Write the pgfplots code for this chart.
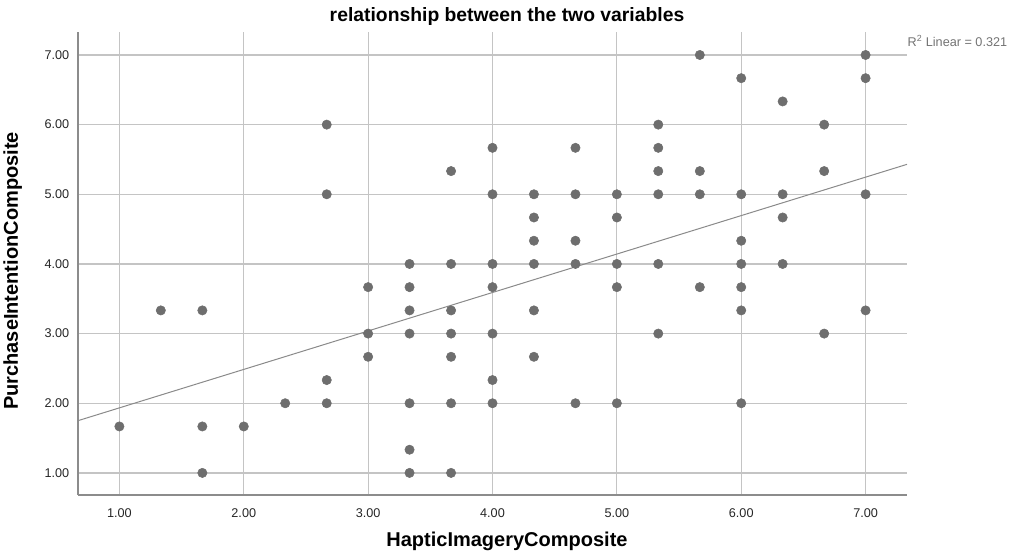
\documentclass[border=0pt]{standalone}
\usepackage{pgfplots}
\pgfplotsset{compat=1.18}
\usepackage{fontspec}
\setmainfont{Liberation Sans}
\definecolor{dotc}{HTML}{6E6E6E}
\definecolor{gridc}{HTML}{C4C4C4}
\definecolor{axc}{HTML}{8C8C8C}
\definecolor{fitc}{HTML}{8A8A8A}
\begin{document}
\begin{tikzpicture}
\useasboundingbox (-58.5pt,-45pt) rectangle (699.75pt,371.25pt);
\begin{axis}[
  at={(0,0)}, anchor=south west,
  scale only axis,
  width=621.75pt, height=347.25pt,
  xmin=0.667, xmax=7.333,
  ymin=0.683, ymax=7.33,
  axis x line=bottom, axis y line=left,
  axis line style={axc, line width=0.8pt, -},
  xtick={1,2,3,4,5,6,7},
  ytick={1,2,3,4,5,6,7},
  xticklabels={1.00,2.00,3.00,4.00,5.00,6.00,7.00},
  yticklabels={1.00,2.00,3.00,4.00,5.00,6.00,7.00},
  major tick length=0pt,
  grid=major,
  major grid style={gridc, line width=0.9pt},
  tick label style={font=\fontsize{9.5}{11}\selectfont, text=black!85},
  xticklabel style={yshift=-7pt},
  yticklabel style={xshift=-3pt},
  clip=false,
]
\addplot[fitc, line width=0.75pt] coordinates {(0.667,1.75) (7.333,5.43)};
\addplot[only marks, mark=*, mark size=3.5pt, mark options={draw=dotc, fill=dotc}] coordinates {
(1.000,1.667)
(1.333,3.333)
(1.667,3.333) (1.667,1.667) (1.667,1.000)
(2.000,1.667)
(2.333,2.000)
(2.667,6.000) (2.667,5.000) (2.667,2.333) (2.667,2.000)
(3.000,3.667) (3.000,3.000) (3.000,2.667)
(3.333,4.000) (3.333,3.667) (3.333,3.333) (3.333,3.000) (3.333,2.000) (3.333,1.333) (3.333,1.000)
(3.667,5.333) (3.667,4.000) (3.667,3.333) (3.667,3.000) (3.667,2.667) (3.667,2.000) (3.667,1.000)
(4.000,5.667) (4.000,5.000) (4.000,4.000) (4.000,3.667) (4.000,3.000) (4.000,2.333) (4.000,2.000)
(4.333,5.000) (4.333,4.667) (4.333,4.333) (4.333,4.000) (4.333,3.333) (4.333,2.667)
(4.667,5.667) (4.667,5.000) (4.667,4.333) (4.667,4.000) (4.667,2.000)
(5.000,5.000) (5.000,4.667) (5.000,4.000) (5.000,3.667) (5.000,2.000)
(5.333,6.000) (5.333,5.667) (5.333,5.333) (5.333,5.000) (5.333,4.000) (5.333,3.000)
(5.667,7.000) (5.667,5.333) (5.667,5.000) (5.667,3.667)
(6.000,6.667) (6.000,5.000) (6.000,4.333) (6.000,4.000) (6.000,3.667) (6.000,3.333) (6.000,2.000)
(6.333,6.333) (6.333,5.000) (6.333,4.667) (6.333,4.000)
(6.667,6.000) (6.667,5.333) (6.667,3.000)
(7.000,7.000) (7.000,6.667) (7.000,5.000) (7.000,3.333)
};
\end{axis}
\node[anchor=base, font=\bfseries\fontsize{14.5}{16}\selectfont] at (321.75pt,355pt) {relationship between the two variables};
\node[anchor=base, font=\bfseries\fontsize{15}{17}\selectfont] at (321.75pt,-38.5pt) {HapticImageryComposite};
\node[anchor=base, rotate=90, font=\bfseries\fontsize{15}{17}\selectfont] at (-45pt,168pt) {PurchaseIntentionComposite};
\node[anchor=base west, inner sep=0pt, text=black!55, font=\fontsize{9.5}{11}\selectfont] at (622pt,336.5pt) {R$^{\mathrm{2}}$ Linear = 0.321};
\end{tikzpicture}
\end{document}
